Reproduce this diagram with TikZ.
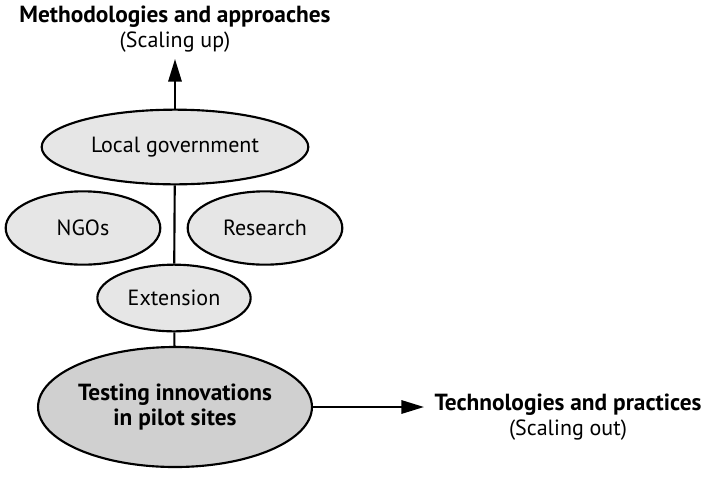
\documentclass[tikz,border=0pt]{standalone}
\usepackage{fontspec}
\setmainfont{PT Sans}
\usetikzlibrary{shapes.geometric,arrows.meta}
\definecolor{lightfill}{RGB}{230,230,230}
\definecolor{darkfill}{RGB}{208,208,208}

\begin{document}
\begin{tikzpicture}[x=0.75pt,y=-0.75pt,
  oval/.style={ellipse,draw,line width=1.6pt,fill=lightfill,inner sep=0pt,
    font=\fontsize{16.5}{19}\selectfont},
  caption/.style={align=center,font=\fontsize{16.5}{19}\selectfont},
  >={Triangle[length=17pt,width=10pt]}]
  \useasboundingbox (0,0) rectangle (707,476);
  % the ovals
  \node[oval,minimum width=200pt,minimum height=56pt] (lg) at (175,147) {Local government};
  \node[oval,minimum width=116pt,minimum height=55pt] (ngo) at (83,228) {NGOs};
  \node[oval,minimum width=116pt,minimum height=55pt] (res) at (265,228) {Research};
  \node[oval,minimum width=115pt,minimum height=50pt] (ext) at (174,298) {Extension};
  \node[oval,fill=darkfill,minimum width=205pt,minimum height=90pt,
    font=\fontsize{17.5}{19}\selectfont\bfseries,align=center] (test) at (175,407)
    {Testing innovations\\ in pilot sites};
  % the two ends
  \node[caption] (up) at (175,29) {\textbf{\fontsize{17.5}{19}\selectfont Methodologies and approaches}\\ (Scaling up)};
  \node[caption] (out) at (568,417) {\textbf{\fontsize{17.5}{19}\selectfont Technologies and practices}\\ (Scaling out)};
  \coordinate (uptip) at (175,59);
  \coordinate (outtip) at (424,407);

  \path[line width=1.6pt]
    (lg) edge (ext)
    (ext) edge (test);
  \path[->,line width=1.6pt]
    (lg) edge (uptip)
    (test.east) edge (outtip);
\end{tikzpicture}
\end{document}
